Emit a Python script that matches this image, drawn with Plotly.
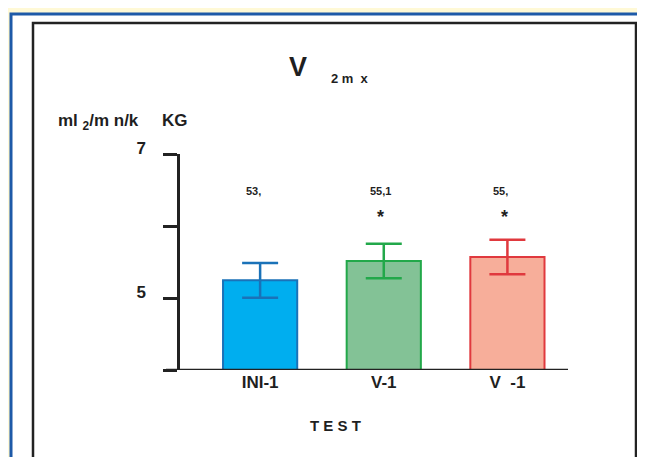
import plotly.graph_objects as go

categories = ["INI-1", "V-1", "V\u00a0\u00a0-1"]
means = [5.245, 5.515, 5.57]
errors = [0.24, 0.24, 0.24]
labels_top = ["53,", "55,1", "55,"]
labels_star = ["", "*", "*"]
fill_colors = ["#00AEEF", "#83C296", "#F7AE9A"]
line_colors = ["#1A72B8", "#22A84A", "#E0393E"]
y_tickvals = [5, 7]
y_ticktext = ["5", "7"]

W, H = 645, 457
L, R, T, B = 179, 567, 153, 369
O = 7  # page offset compensation

def px(x):
    return (x - L) / (R - L)

def py(y):
    return (B - y) / (B - T)

FONT = "Liberation Sans, Arial"
TXT = "#1f1f1f"
NB = "\u00a0"

fig = go.Figure()
for i, c in enumerate(categories):
    fig.add_trace(go.Bar(
        x=[c], y=[means[i]], base=0,
        marker=dict(color=fill_colors[i], line=dict(color=line_colors[i], width=2)),
        error_y=dict(type="data", array=[errors[i]], color=line_colors[i], thickness=2.5, width=18),
        width=0.6, showlegend=False, hoverinfo="skip",
    ))

annotations = []
for i, c in enumerate(categories):
    annotations.append(dict(x=c, y=6.49, xref="x", yref="y", text="<b>%s</b>" % labels_top[i],
                            xanchor="left", yanchor="middle", xshift=-16,
                            showarrow=False, font=dict(size=11, color=TXT, family=FONT)))
    if labels_star[i]:
        annotations.append(dict(x=c, y=6.12, xref="x", yref="y", text="<b>%s</b>" % labels_star[i],
                                xanchor="center", yanchor="middle", xshift=-3,
                                showarrow=False, font=dict(size=18, color=TXT, family=FONT)))

annotations += [
    dict(x=px(297), y=py(66), xref="paper", yref="paper", text="<b>V</b>", showarrow=False,
         xanchor="center", yanchor="middle", font=dict(size=27, color=TXT, family=FONT)),
    dict(x=px(349), y=py(78), xref="paper", yref="paper", text="<b>2 m" + NB + " x</b>", showarrow=False,
         xanchor="center", yanchor="middle", font=dict(size=13, color=TXT, family=FONT)),
    dict(x=px(55), y=py(121), xref="paper", yref="paper", xanchor="left", yanchor="middle",
         text="<b>ml" + NB + "<sub>2</sub>/m n/k" + NB * 5 + "KG</b>", showarrow=False,
         font=dict(size=17, color=TXT, family=FONT)),
    dict(x=px(334), y=py(424), xref="paper", yref="paper", text="<b>T E S T</b>", showarrow=False,
         xanchor="center", yanchor="middle", font=dict(size=15, color=TXT, family=FONT)),
]

shapes = [
    dict(type="rect", xref="paper", yref="paper", x0=px(10), x1=px(660), y0=py(13), y1=py(480),
         fillcolor="white", line=dict(color="#1E5AA8", width=3), layer="below"),
    dict(type="rect", xref="paper", yref="paper", x0=px(32), x1=px(635), y0=py(22), y1=py(480),
         fillcolor="white", line=dict(color="#222", width=2.5), layer="below"),
    dict(type="line", xref="paper", yref="y", x0=px(165), x1=1, y0=4, y1=4,
         line=dict(color="#222", width=2.5)),
]

fig.update_layout(
    width=W, height=H, autosize=False,
    margin=dict(l=L - O, r=W - R + O, t=T - O, b=H - B + O, pad=0, autoexpand=False),
    paper_bgcolor="#FFF9D6", plot_bgcolor="rgba(0,0,0,0)",
    annotations=annotations, shapes=shapes,
    xaxis=dict(range=[-0.648, 2.49], showline=False, ticks="", showgrid=False, zeroline=False,
               automargin=False,
               tickfont=dict(size=17, color=TXT, family=FONT),
               tickvals=categories, ticktext=["<b>%s</b>" % c for c in categories]),
    yaxis=dict(range=[4, 7], tickvals=y_tickvals, ticktext=["<b>%s</b>" % t for t in y_ticktext],
               automargin=False, ticklabelstandoff=14, ticklabelshift=-6,
               showline=True, linecolor="#222", linewidth=2.5, ticks="outside", ticklen=14,
               tickwidth=2.5, tickcolor="#222", showgrid=False, zeroline=False,
               minor=dict(dtick=1, tick0=4, ticks="outside", ticklen=14, tickwidth=2.5,
                          tickcolor="#222", showgrid=False),
               tickfont=dict(size=17, color=TXT, family=FONT)),
    bargap=0.4,
)

fig.write_html("out.html")
